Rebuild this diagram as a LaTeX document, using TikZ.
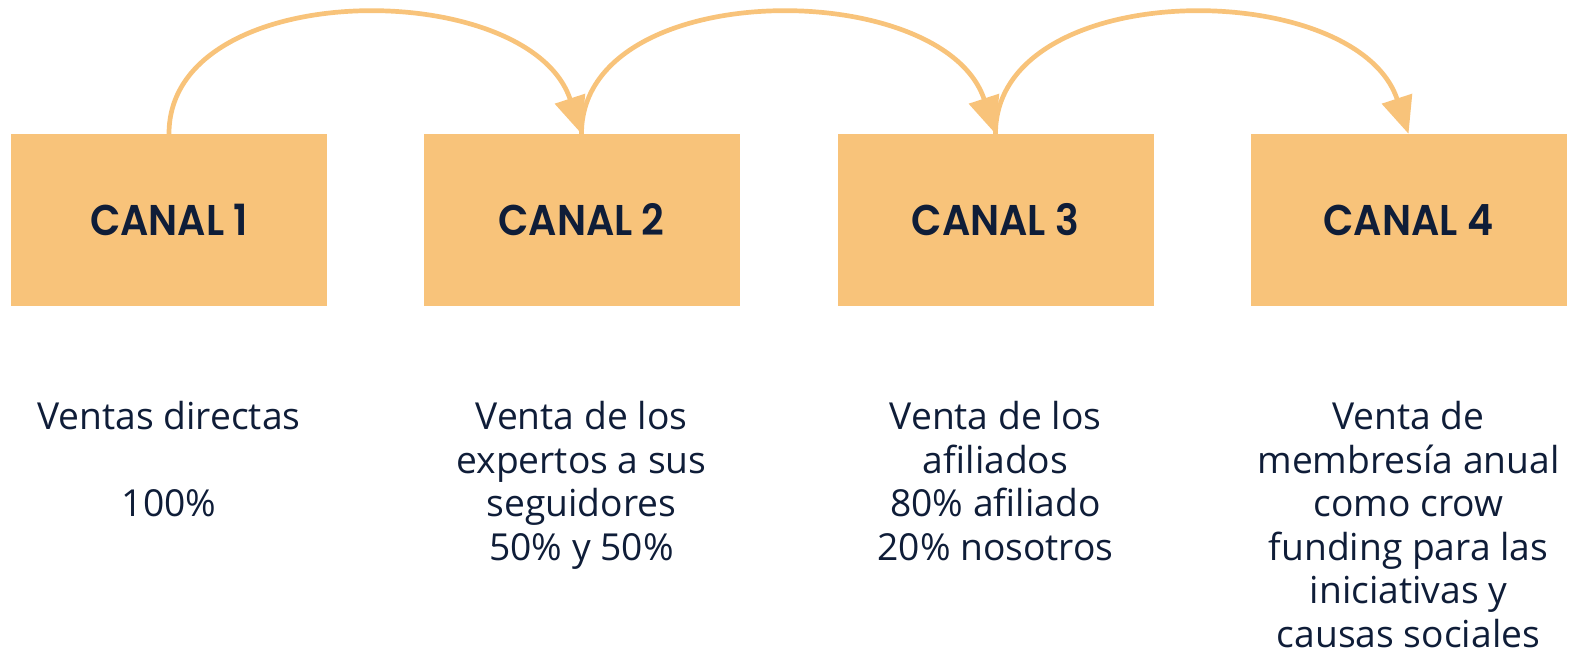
\documentclass[tikz,border=0pt]{standalone}
\usepackage{fontspec}
\setmainfont{Open Sans}
\newfontfamily\canalfont{Poppins}[UprightFont=* SemiBold, FakeStretch=0.92]
\usetikzlibrary{arrows.meta}
\definecolor{boxcol}{HTML}{F8C37A}
\definecolor{txtcol}{HTML}{0F1D38}
\tikzset{
  canalbox/.style={fill=boxcol, draw=none, minimum width=316pt, minimum height=172pt, inner sep=0pt,
    text=txtcol, font=\canalfont\fontsize{43}{43}\selectfont},
  desc/.style={anchor=north, inner sep=0pt, align=center, text=txtcol,
    font=\fontsize{37.2}{43.6}\selectfont},
  flow/.style={draw=boxcol, line width=4.7pt, -{Triangle[length=37pt,width=31pt]}}
}
\begin{document}
\begin{tikzpicture}[x=1pt,y=-1pt]
\useasboundingbox (0,0) rectangle (1569,652);
\node[canalbox] (b1) at (169,220) {CANAL 1};
\node[canalbox] (b2) at (581.5,220) {CANAL 2};
\node[canalbox] (b3) at (995.5,220) {CANAL 3};
\node[canalbox] (b4) at (1408.5,220) {CANAL 4};
\node[desc] (t1) at (169,401) {Ventas directas\\[43.6pt]100\%};
\node[desc] (t2) at (581.5,401) {Venta de los\\expertos a sus\\seguidores\\50\% y 50\%};
\node[desc] (t3) at (995.5,401) {Venta de los\\afiliados\\80\% afiliado\\20\% nosotros};
\node[desc] (t4) at (1408.5,401) {Venta de\\membresía anual\\como crow\\funding para las\\iniciativas y\\causas sociales};
\draw[flow] (b1.north) .. controls +(0,-158) and +(-52,-158) .. (b2.north);
\draw[flow] (b2.north) .. controls +(0,-158) and +(-52,-158) .. (b3.north);
\draw[flow] (b3.north) .. controls +(0,-158) and +(-52,-158) .. (b4.north);
\end{tikzpicture}
\end{document}
